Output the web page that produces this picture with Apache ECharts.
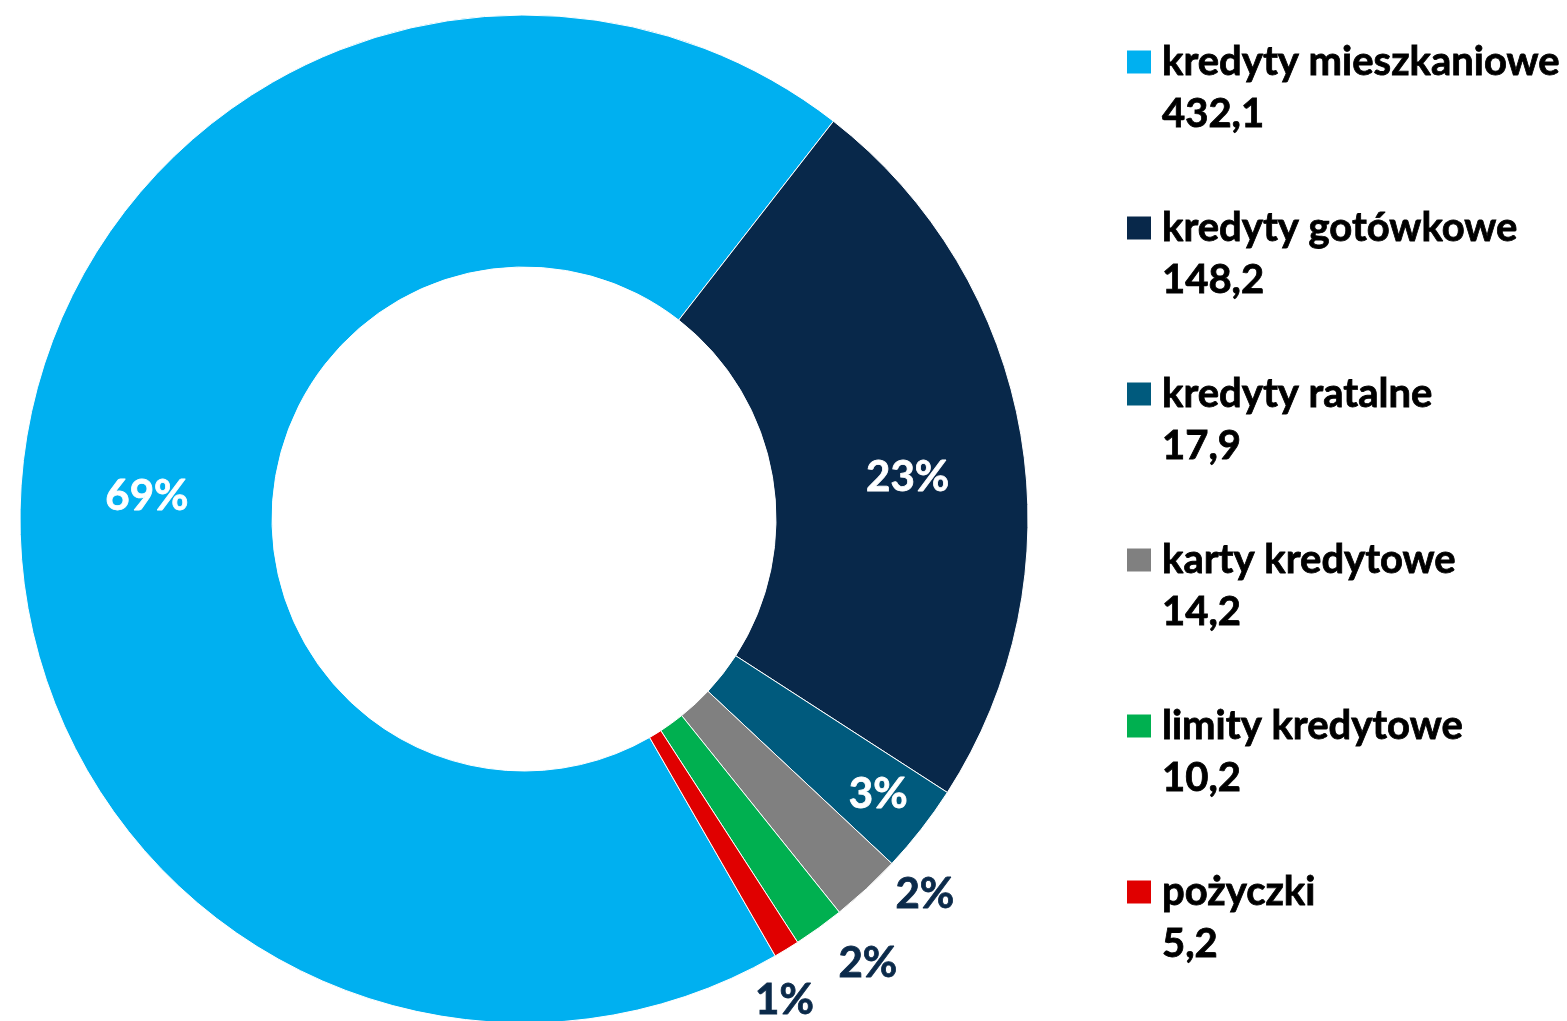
<!DOCTYPE html>
<html>
<head>
<meta charset="utf-8">
<script src="https://cdn.jsdelivr.net/npm/echarts@6/dist/echarts.min.js"></script>
<style>
html,body{margin:0;padding:0;background:#fff;}
#chart{width:1567px;height:1021px;}
</style>
</head>
<body>
<div id="chart"></div>
<script>
var categories = ['kredyty mieszkaniowe', 'kredyty gotówkowe', 'kredyty ratalne', 'karty kredytowe', 'limity kredytowe', 'pożyczki'];
var values = [432.1, 148.2, 17.9, 14.2, 10.2, 5.2];
var valueLabels = ['432,1', '148,2', '17,9', '14,2', '10,2', '5,2'];

var colors = ['#00B0F0', '#08284A', '#005A7D', '#808080', '#00B050', '#E00000'];
var labelColors = ['#ffffff', '#ffffff', '#ffffff', '#0B2A4A', '#0B2A4A', '#0B2A4A'];
var labelOffsets = [[3, 4], [8, 22], [54, 41], [142, 96], [121, 135], [62, 156]];

var FONT = 'Lato, "Open Sans", sans-serif';

var pieData = categories.map(function (c, i) {
  return {
    name: c,
    value: values[i],
    itemStyle: { color: colors[i] },
    label: { color: labelColors[i], textBorderColor: labelColors[i], offset: labelOffsets[i] }
  };
});

var legendText = {
  fontFamily: FONT, fontWeight: 'bold', fontSize: 40, color: '#000',
  lineHeight: 52, padding: [0, 0, 0, 6],
  textBorderColor: '#000', textBorderWidth: 0.8
};

var chart = echarts.init(document.getElementById('chart'), null, { renderer: 'canvas' });
chart.setOption({
  animation: false,
  backgroundColor: '#ffffff',
  legend: [
    {
      orient: 'vertical',
      left: 1127,
      top: 36,
      padding: 0,
      itemWidth: 24,
      itemHeight: 23,
      itemGap: 114,
      icon: 'rect',
      selectedMode: false,
      data: categories,
      textStyle: legendText,
      itemStyle: { borderWidth: 0 }
    },
    {
      orient: 'vertical',
      left: 1127,
      top: 88,
      padding: 0,
      itemWidth: 24,
      itemHeight: 23,
      itemGap: 114,
      icon: 'none',
      selectedMode: false,
      data: categories,
      formatter: function (name) { return valueLabels[categories.indexOf(name)]; },
      textStyle: legendText
    }
  ],
  series: [{
    type: 'pie',
    center: [524, 519],
    radius: [252, 504],
    startAngle: -60.1,
    clockwise: true,
    percentPrecision: 0,
    avoidLabelOverlap: false,
    itemStyle: { borderColor: '#ffffff', borderWidth: 1 },
    label: {
      show: true,
      position: 'inside',
      formatter: '{d}%',
      fontFamily: FONT,
      fontWeight: 'bold',
      fontSize: 42,
      textBorderWidth: 0.8
    },
    labelLine: { show: false },
    emphasis: { disabled: true },
    data: pieData
  }]
});
</script>
</body>
</html>
